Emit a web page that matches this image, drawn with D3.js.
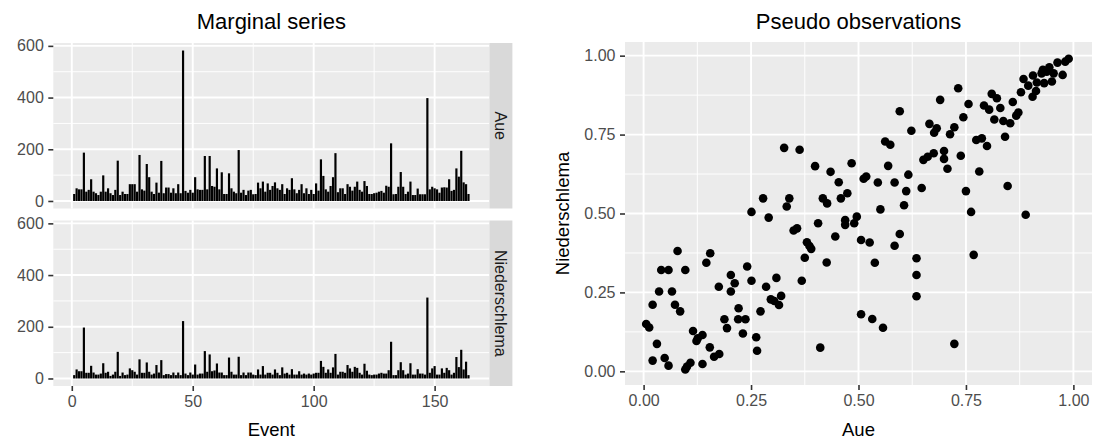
<!DOCTYPE html>
<html>
<head>
<meta charset="utf-8">
<script src="https://cdn.jsdelivr.net/npm/d3@7"></script>
<style>
  html, body { margin: 0; padding: 0; background: #ffffff; }
  svg text { font-family: "Liberation Sans", Arial, Helvetica, sans-serif; }
</style>
</head>
<body>
<svg id="chart" width="1098" height="440"></svg>
<script>
// Peak discharge per flood event at the two gauges
const aue = [27,49,45,45,187,36,43,84,36,30,
  23,36,99,36,49,30,23,43,156,23,
  36,27,27,65,65,65,36,178,45,40,
  143,92,36,27,71,32,155,30,52,52,
  32,49,30,65,30,582,39,32,43,32,
  92,45,43,43,174,45,174,58,55,126,
  45,111,27,27,107,49,36,30,197,32,
  43,23,40,43,26,27,71,49,75,36,
  68,43,58,72,49,43,65,27,49,43,
  88,45,30,43,65,30,49,27,43,27,
  68,40,161,97,45,36,58,92,185,34,
  49,49,27,65,55,40,55,75,43,36,
  77,58,27,27,30,32,36,39,32,59,
  55,223,26,27,55,112,55,27,36,75,
  23,23,48,26,26,26,398,45,55,49,
  45,32,52,53,52,84,39,43,126,94,
  194,72,65,27];
const niederschlema = [13,35,28,28,197,22,22,49,23,15,
  15,19,59,22,26,10,15,26,103,10,
  23,13,15,39,32,26,15,74,22,22,
  62,26,15,19,52,23,71,13,17,17,
  13,23,13,23,13,222,19,13,23,15,
  54,15,19,19,106,26,93,28,31,58,
  23,23,13,13,81,26,15,15,84,13,
  23,13,23,23,15,13,35,15,48,15,
  22,22,15,35,22,13,43,19,22,15,
  36,15,15,28,15,19,15,19,15,19,
  22,22,68,45,22,35,22,43,95,15,
  26,26,22,52,39,26,45,41,22,15,
  57,30,15,13,15,15,19,22,19,19,
  32,142,13,13,32,63,32,15,19,59,
  15,15,36,19,19,15,313,22,39,48,
  15,15,39,22,41,32,15,22,83,44,
  111,35,65,13];
const gauges = ["Aue", "Niederschlema"];
const xTicks = [0, 50, 100, 150];
const yTicksLeft = [0, 200, 400, 600];
const tickLabelsRight = ["0.00", "0.25", "0.50", "0.75", "1.00"];

// Pseudo observations (rank-based, in [0,1])
const pseudoAue = [0.327,0.363,0.399,0.435,0.454,0.474,0.278,0.339,0.333,0.417,0.427,0.459,0.251,0.291,
  0.989,0.981,0.963,0.944,0.929,0.938,0.926,0.954,0.906,0.975,0.884,0.932,0.915,0.950,0.895,0.913,0.878,0.905,0.859,0.810,0.822,0.830,0.792,0.804,0.816,0.837,0.853,0.867,0.872,0.841,0.787,0.774,0.799,0.756,0.744,0.732,0.690,0.596,0.623,0.665,0.682,0.676,0.723,0.713,0.562,0.574,0.651,0.661,0.675,0.699,0.699,0.707,0.738,0.781,0.569,0.484,0.616,0.518,0.512,0.545,0.584,0.611,0.647,0.750,0.847,0.551,0.606,0.762,0.889,
  0.469,0.469,0.496,0.490,0.506,0.526,0.584,0.596,0.538,0.635,0.635,0.635,0.768,0.506,0.532,0.557,0.723,
  0.349,0.357,0.406,0.446,0.380,0.386,0.390,0.375,0.426,0.368,0.079,0.155,0.146,0.041,0.058,0.097,0.241,0.203,0.251,0.212,0.175,0.285,0.309,0.036,0.066,0.203,0.320,0.296,0.304,0.315,0.021,0.073,0.085,0.221,0.272,0.188,0.220,0.237,0.194,0.231,0.006,0.013,0.115,0.126,0.137,0.123,0.031,0.262,0.264,0.154,0.164,0.176,0.137,0.049,0.058,0.021,0.097,0.109,0.101,0.411];
const pseudoNied = [0.708,0.702,0.650,0.632,0.599,0.564,0.548,0.548,0.522,0.548,0.532,0.548,0.505,0.487,
  0.990,0.981,0.978,0.963,0.955,0.949,0.944,0.944,0.937,0.939,0.926,0.913,0.915,0.918,0.905,0.888,0.884,0.870,0.853,0.879,0.865,0.834,0.842,0.829,0.798,0.793,0.786,0.810,0.820,0.743,0.738,0.733,0.714,0.847,0.805,0.897,0.860,0.824,0.762,0.784,0.770,0.756,0.773,0.751,0.728,0.718,0.670,0.680,0.691,0.698,0.673,0.642,0.683,0.633,0.651,0.659,0.623,0.617,0.610,0.598,0.598,0.571,0.581,0.571,0.587,0.513,0.526,0.505,0.496,
  0.479,0.464,0.490,0.469,0.416,0.408,0.398,0.435,0.344,0.358,0.305,0.238,0.369,0.181,0.166,0.138,0.087,
  0.446,0.453,0.469,0.427,0.409,0.397,0.388,0.360,0.345,0.287,0.381,0.374,0.344,0.321,0.321,0.321,0.332,0.305,0.287,0.279,0.268,0.268,0.296,0.253,0.253,0.253,0.239,0.228,0.223,0.210,0.211,0.211,0.190,0.200,0.190,0.165,0.165,0.165,0.137,0.120,0.150,0.139,0.128,0.105,0.115,0.096,0.087,0.108,0.065,0.076,0.046,0.055,0.023,0.042,0.018,0.034,0.006,0.027,0.015,0.075];

const svg = d3.select("#chart");
svg.append("rect").attr("width", 1098).attr("height", 440).attr("fill", "#ffffff");

const PANEL_BG = "#ebebeb", GRID = "#ffffff", TICK = "#333333", TICK_TXT = "#4d4d4d";
const TICK_LEN = 5, TICK_PAD = 4.5;
const TICK_FS = "16px", TITLE_FS = "22px", AXTITLE_FS = "18.5px", STRIP_FS = "16px";

function styleAxis(axg) {
  axg.select(".domain").remove();
  axg.selectAll("line").attr("stroke", TICK).attr("stroke-width", 1.6);
  axg.selectAll("text").attr("fill", TICK_TXT).style("font-size", TICK_FS).attr("font-family", null);
}

// ---------- Left: faceted bar chart ----------
const nEvents = aue.length;
const events = d3.range(1, nEvents + 1);
const L = { left: 53.3, right: 489.4 };
const facets = [
  { name: gauges[0], values: aue, top: 43, bottom: 208.5 },
  { name: gauges[1], values: niederschlema, top: 220.5, bottom: 386 }
];
const xPad = (nEvents - 0.1) * 0.05;
const xL = d3.scaleLinear().domain([0.55 - xPad, nEvents + 0.45 + xPad]).range([L.left, L.right]);
const yMax = d3.max([...aue, ...niederschlema]);
const yDom = [-yMax * 0.05, yMax * 1.05];
const bw = (xL(1) - xL(0)) * 0.9;

facets.forEach(f => {
  const y = d3.scaleLinear().domain(yDom).range([f.bottom, f.top]);
  const g = svg.append("g");
  g.append("rect").attr("x", L.left).attr("y", f.top)
    .attr("width", L.right - L.left).attr("height", f.bottom - f.top).attr("fill", PANEL_BG);
  const xMinor = [25, 75, 125];
  const yMinor = [100, 300, 500];
  g.selectAll(".xm").data(xMinor).join("line")
    .attr("x1", d => xL(d)).attr("x2", d => xL(d)).attr("y1", f.top).attr("y2", f.bottom)
    .attr("stroke", GRID).attr("stroke-width", 0.95);
  g.selectAll(".ym").data(yMinor).join("line")
    .attr("x1", L.left).attr("x2", L.right).attr("y1", d => y(d)).attr("y2", d => y(d))
    .attr("stroke", GRID).attr("stroke-width", 0.95);
  g.selectAll(".xM").data(xTicks).join("line")
    .attr("x1", d => xL(d)).attr("x2", d => xL(d)).attr("y1", f.top).attr("y2", f.bottom)
    .attr("stroke", GRID).attr("stroke-width", 1.9);
  g.selectAll(".yM").data(yTicksLeft).join("line")
    .attr("x1", L.left).attr("x2", L.right).attr("y1", d => y(d)).attr("y2", d => y(d))
    .attr("stroke", GRID).attr("stroke-width", 1.9);
  g.selectAll(".bar").data(events).join("rect")
    .attr("x", d => xL(d) - bw / 2).attr("width", bw)
    .attr("y", d => y(f.values[d - 1])).attr("height", d => y(0) - y(f.values[d - 1]))
    .attr("fill", "#000000");
  const ay = d3.axisLeft(y).tickValues(yTicksLeft).tickSize(TICK_LEN).tickPadding(TICK_PAD).tickFormat(d3.format("d"));
  styleAxis(svg.append("g").attr("transform", `translate(${L.left},0)`).call(ay));
  svg.append("rect").attr("x", L.right).attr("y", f.top).attr("width", 23).attr("height", f.bottom - f.top)
    .attr("fill", "#d9d9d9");
  svg.append("text")
    .attr("transform", `translate(${L.right + 11.5},${(f.top + f.bottom) / 2}) rotate(90)`)
    .attr("text-anchor", "middle").attr("dominant-baseline", "central")
    .attr("fill", "#1a1a1a").style("font-size", STRIP_FS).text(f.name);
});

{
  const ax = d3.axisBottom(xL).tickValues(xTicks).tickSize(TICK_LEN).tickPadding(TICK_PAD);
  styleAxis(svg.append("g").attr("transform", `translate(0,${facets[1].bottom})`).call(ax));
}
svg.append("text").attr("x", (L.left + L.right) / 2).attr("y", 29)
  .attr("text-anchor", "middle").style("font-size", TITLE_FS).attr("fill", "#000").text("Marginal series");
svg.append("text").attr("x", (L.left + L.right) / 2).attr("y", 436)
  .attr("text-anchor", "middle").style("font-size", AXTITLE_FS).attr("fill", "#000").text("Event");

// ---------- Right: scatter of pseudo observations ----------
const R = { left: 625, right: 1092, top: 42, bottom: 385 };
const xR = d3.scaleLinear().domain([-0.0433, 1.0433]).range([R.left, R.right]);
const yR = d3.scaleLinear().domain([-0.0433, 1.0433]).range([R.bottom, R.top]);
const ticksR = [0, 0.25, 0.5, 0.75, 1];
const minorR = [0.125, 0.375, 0.625, 0.875];
const gr = svg.append("g");
gr.append("rect").attr("x", R.left).attr("y", R.top).attr("width", R.right - R.left).attr("height", R.bottom - R.top)
  .attr("fill", PANEL_BG);
gr.selectAll(".xm").data(minorR).join("line")
  .attr("x1", d => xR(d)).attr("x2", d => xR(d)).attr("y1", R.top).attr("y2", R.bottom)
  .attr("stroke", GRID).attr("stroke-width", 0.95);
gr.selectAll(".ym").data(minorR).join("line")
  .attr("x1", R.left).attr("x2", R.right).attr("y1", d => yR(d)).attr("y2", d => yR(d))
  .attr("stroke", GRID).attr("stroke-width", 0.95);
gr.selectAll(".xM").data(ticksR).join("line")
  .attr("x1", d => xR(d)).attr("x2", d => xR(d)).attr("y1", R.top).attr("y2", R.bottom)
  .attr("stroke", GRID).attr("stroke-width", 1.9);
gr.selectAll(".yM").data(ticksR).join("line")
  .attr("x1", R.left).attr("x2", R.right).attr("y1", d => yR(d)).attr("y2", d => yR(d))
  .attr("stroke", GRID).attr("stroke-width", 1.9);

const pts = pseudoAue.map((u, i) => ({ u, v: pseudoNied[i] }));
gr.selectAll(".pt").data(pts).join("circle")
  .attr("cx", d => xR(d.u)).attr("cy", d => yR(d.v)).attr("r", 4.3).attr("fill", "#000000");

{
  const fmt = (d, i) => tickLabelsRight[i];
  const ax = d3.axisBottom(xR).tickValues(ticksR).tickSize(TICK_LEN).tickPadding(TICK_PAD).tickFormat(fmt);
  styleAxis(svg.append("g").attr("transform", `translate(0,${R.bottom})`).call(ax));
  const ay = d3.axisLeft(yR).tickValues(ticksR).tickSize(TICK_LEN).tickPadding(TICK_PAD).tickFormat(fmt);
  styleAxis(svg.append("g").attr("transform", `translate(${R.left},0)`).call(ay));
}
svg.append("text").attr("x", (R.left + R.right) / 2).attr("y", 29)
  .attr("text-anchor", "middle").style("font-size", TITLE_FS).attr("fill", "#000").text("Pseudo observations");
svg.append("text").attr("x", (R.left + R.right) / 2).attr("y", 436)
  .attr("text-anchor", "middle").style("font-size", AXTITLE_FS).attr("fill", "#000").text(gauges[0]);
svg.append("text").attr("transform", `translate(569,${(R.top + R.bottom) / 2}) rotate(-90)`)
  .attr("text-anchor", "middle").style("font-size", AXTITLE_FS).attr("fill", "#000").text(gauges[1]);
</script>
</body>
</html>
